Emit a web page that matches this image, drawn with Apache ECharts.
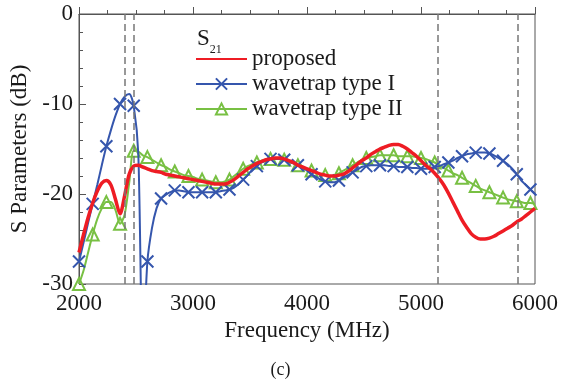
<!DOCTYPE html>
<html>
<head>
<meta charset="utf-8">
<script src="https://cdn.jsdelivr.net/npm/echarts@6/dist/echarts.min.js"></script>
<style>html,body{margin:0;padding:0;background:#fff}#c{width:561px;height:384px}</style>
</head>
<body>
<div id="c"></div>
<script>
const freq = [
  2000,2040,2080,2120,2160,2200,2240,2280,2320,2360,
  2400,2440,2480,2520,2560,2600,2640,2680,2720,2760,
  2800,2840,2880,2920,2960,3000,3040,3080,3120,3160,
  3200,3240,3280,3320,3360,3400,3440,3480,3520,3560,
  3600,3640,3680,3720,3760,3800,3840,3880,3920,3960,
  4000,4040,4080,4120,4160,4200,4240,4280,4320,4360,
  4400,4440,4480,4520,4560,4600,4640,4680,4720,4760,
  4800,4840,4880,4920,4960,5000,5040,5080,5120,5160,
  5200,5240,5280,5320,5360,5400,5440,5480,5520,5560,
  5600,5640,5680,5720,5760,5800,5840,5880,5920,5960,
  6000
];
const proposed = [
  -26.5,-24.5,-22.6,-21.0,-19.7,-18.8,-18.5,-19.0,-20.6,-22.2,
  -20.2,-17.8,-16.9,-16.8,-17.0,-17.2,-17.4,-17.5,-17.6,-17.8,
  -17.9,-18.0,-18.1,-18.2,-18.3,-18.4,-18.5,-18.6,-18.7,-18.8,
  -18.9,-18.9,-18.9,-18.7,-18.4,-18.0,-17.6,-17.2,-16.9,-16.6,
  -16.4,-16.2,-16.1,-16.0,-16.0,-16.1,-16.3,-16.5,-16.8,-17.0,
  -17.2,-17.4,-17.6,-17.8,-17.9,-18.0,-18.0,-17.9,-17.8,-17.5,
  -17.1,-16.7,-16.3,-16.0,-15.6,-15.3,-15.0,-14.8,-14.6,-14.5,
  -14.5,-14.7,-15.0,-15.4,-15.8,-16.3,-16.8,-17.2,-17.7,-18.3,
  -19.0,-19.9,-20.9,-21.9,-22.9,-23.7,-24.4,-24.8,-25.0,-25.0,
  -24.9,-24.7,-24.4,-24.1,-23.8,-23.5,-23.1,-22.8,-22.4,-22.0,
  -21.6
];
const typeI = [
  -27.5,-25.4,-23.2,-21.1,-19.0,-16.8,-14.7,-12.9,-11.3,-10.0,
  -9.2,-8.9,-10.2,-15.5,-38.0,-27.5,-23.8,-21.6,-20.5,-20.1,
  -19.8,-19.6,-19.6,-19.7,-19.8,-19.8,-19.8,-19.8,-19.8,-19.8,
  -19.8,-19.7,-19.6,-19.5,-19.3,-18.9,-18.4,-17.9,-17.3,-16.9,
  -16.5,-16.3,-16.1,-16.1,-16.1,-16.2,-16.4,-16.6,-16.8,-17.1,
  -17.4,-17.8,-18.1,-18.4,-18.6,-18.7,-18.7,-18.5,-18.2,-17.9,
  -17.6,-17.3,-17.0,-16.9,-16.8,-16.8,-16.8,-16.8,-16.9,-16.9,
  -17.0,-17.0,-17.0,-17.1,-17.1,-17.2,-17.2,-17.1,-17.0,-16.9,
  -16.7,-16.5,-16.3,-16.0,-15.8,-15.6,-15.5,-15.4,-15.4,-15.4,
  -15.5,-15.7,-16.0,-16.3,-16.7,-17.2,-17.8,-18.5,-19.0,-19.5,
  -20.0
];
const typeII = [
  -30.0,-28.5,-26.5,-24.5,-22.8,-21.6,-20.9,-20.9,-21.8,-23.3,
  -22.3,-18.8,-15.2,-15.3,-15.7,-15.9,-16.2,-16.5,-16.8,-17.0,
  -17.3,-17.5,-17.7,-17.9,-18.0,-18.1,-18.3,-18.4,-18.5,-18.6,
  -18.7,-18.7,-18.6,-18.4,-18.0,-17.6,-17.2,-16.9,-16.7,-16.5,
  -16.3,-16.2,-16.1,-16.1,-16.1,-16.2,-16.4,-16.6,-16.8,-17.0,
  -17.2,-17.4,-17.6,-17.8,-17.9,-18.0,-17.9,-17.7,-17.4,-17.1,
  -16.8,-16.5,-16.2,-16.0,-15.9,-15.8,-15.7,-15.7,-15.7,-15.7,
  -15.8,-15.8,-15.8,-15.8,-15.9,-16.0,-16.1,-16.3,-16.5,-16.8,
  -17.1,-17.4,-17.7,-17.9,-18.2,-18.5,-18.8,-19.1,-19.4,-19.6,
  -19.8,-20.0,-20.2,-20.4,-20.6,-20.7,-20.8,-20.9,-21.0,-21.0,
  -21.1
];
const bandEdges = [2400, 2483.5, 5150, 5850];
const seriesNames = ['proposed', 'wavetrap type I', 'wavetrap type II'];

const FONT = '"Liberation Serif", "DejaVu Serif", serif';
const TXT = '#1a1a1a';
const AX = '#555';
const MARK_EVERY = 3;

function toData(vals, withMarkers) {
  return freq.map((f, i) => {
    const item = { value: [f, vals[i]] };
    if (!withMarkers || i % MARK_EVERY !== 0) item.symbol = 'none';
    return item;
  });
}

const chart = echarts.init(document.getElementById('c'), null, { renderer: 'canvas' });
chart.setOption({
  animation: false,
  backgroundColor: '#fff',
  grid: { left: 79, right: 25, top: 14, bottom: 100, show: true, borderColor: AX, borderWidth: 1, backgroundColor: 'transparent' },
  title: {
    text: '{s|S}{sub|21}',
    left: 192, top: 21,
    textStyle: {
      fontWeight: 'normal',
      rich: {
        s: { fontFamily: FONT, fontSize: 23, fontWeight: 'normal', color: TXT, lineHeight: 26 },
        sub: { fontFamily: FONT, fontSize: 12, fontWeight: 'normal', color: TXT, lineHeight: 26, verticalAlign: 'bottom', padding: [0, 0, -4, 0] }
      }
    }
  },
  legend: {
    left: 190, top: 42, orient: 'vertical',
    itemWidth: 51, itemHeight: 14, itemGap: 1,
    data: seriesNames,
    textStyle: { fontFamily: FONT, fontSize: 23, color: TXT, lineHeight: 24, padding: [0, 0, 0, 0] }
  },
  xAxis: {
    type: 'value', min: 2000, max: 6000, interval: 1000,
    name: 'Frequency (MHz)', nameLocation: 'middle', nameGap: 34,
    nameTextStyle: { fontFamily: FONT, fontSize: 23, color: TXT },
    axisLine: { show: true, lineStyle: { color: AX, width: 1 } },
    axisTick: { show: true, inside: true, length: 7, lineStyle: { color: AX } },
    minorTick: { show: true, splitNumber: 4, length: 4, lineStyle: { color: AX } },
    axisLabel: { fontFamily: FONT, fontSize: 23, color: TXT, margin: 8, formatter: v => String(v) },
    splitLine: { show: false }
  },
  yAxis: {
    type: 'value', min: -30, max: 0, interval: 10,
    name: 'S Parameters (dB)', nameLocation: 'middle', nameGap: 44,
    nameTextStyle: { fontFamily: FONT, fontSize: 23, color: TXT },
    axisLine: { show: true, lineStyle: { color: AX, width: 1 } },
    axisTick: { show: true, inside: true, length: 7, lineStyle: { color: AX } },
    minorTick: { show: true, splitNumber: 5, length: 4, lineStyle: { color: AX } },
    axisLabel: { fontFamily: FONT, fontSize: 23, color: TXT, margin: 6, formatter: v => String(v) },
    splitLine: { show: false }
  },
  graphic: [{
    type: 'text', left: 'center', top: 361,
    style: { text: '(c)', font: '18px ' + FONT, fill: TXT }
  }],
  series: [
    {
      name: seriesNames[1], type: 'line', z: 3,
      data: toData(typeI, true), smooth: 0.3, clip: true,
      symbol: 'path://M0,0L10,10M10,0L0,10', symbolSize: 12, showAllSymbol: true,
      lineStyle: { color: '#3556ad', width: 2 },
      itemStyle: { color: '#3556ad', borderColor: '#3556ad', borderWidth: 2 },
      markLine: {
        silent: true, symbol: 'none', label: { show: false },
        lineStyle: { color: '#777', type: [7, 4], width: 1.5 },
        data: bandEdges.map(x => ({ xAxis: x }))
      }
    },
    {
      name: seriesNames[2], type: 'line', z: 2,
      data: toData(typeII, true), smooth: 0.3, clip: true,
      symbol: 'triangle', symbolSize: 12, showAllSymbol: true,
      lineStyle: { color: '#78c043', width: 2 },
      itemStyle: { color: 'rgba(255,255,255,0)', borderColor: '#78c043', borderWidth: 2 }
    },
    {
      name: seriesNames[0], type: 'line', z: 4,
      data: toData(proposed, false), smooth: 0.3, clip: true,
      symbol: 'circle', showSymbol: false,
      lineStyle: { color: '#ee1c24', width: 3.5 },
      itemStyle: { color: 'rgba(0,0,0,0)', borderWidth: 0 }
    }
  ]
});
</script>
</body>
</html>
